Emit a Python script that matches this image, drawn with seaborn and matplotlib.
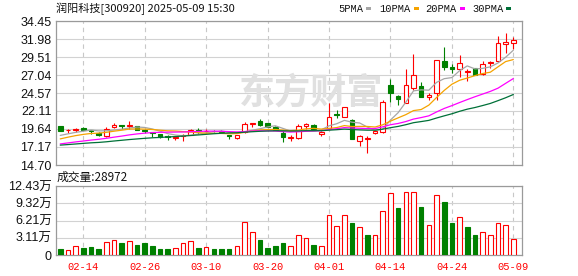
import numpy as np
import pandas as pd
import matplotlib
matplotlib.use("Agg")
import matplotlib.pyplot as plt
from matplotlib.patches import Rectangle
import seaborn as sns

# ---------------- data ----------------
dates = ["2025-02-11", "2025-02-12", "2025-02-13", "2025-02-14", "2025-02-17", "2025-02-18",
         "2025-02-19", "2025-02-20", "2025-02-21", "2025-02-24", "2025-02-25", "2025-02-26",
         "2025-02-27", "2025-02-28", "2025-03-03", "2025-03-04", "2025-03-05", "2025-03-06",
         "2025-03-07", "2025-03-10", "2025-03-11", "2025-03-12", "2025-03-13", "2025-03-14",
         "2025-03-17", "2025-03-18", "2025-03-19", "2025-03-20", "2025-03-21", "2025-03-24",
         "2025-03-25", "2025-03-26", "2025-03-27", "2025-03-28", "2025-03-31", "2025-04-01",
         "2025-04-02", "2025-04-03", "2025-04-07", "2025-04-08", "2025-04-09", "2025-04-10",
         "2025-04-11", "2025-04-14", "2025-04-15", "2025-04-16", "2025-04-17", "2025-04-18",
         "2025-04-21", "2025-04-22", "2025-04-23", "2025-04-24", "2025-04-25", "2025-04-28",
         "2025-04-29", "2025-04-30", "2025-05-06", "2025-05-07", "2025-05-08", "2025-05-09"]

open_ = [20.05, 19.45, 19.50, 19.80, 19.45, 19.10, 18.65, 19.85, 20.15, 20.00,
         20.05, 19.50, 19.20, 18.90, 18.62, 18.45, 18.70, 18.80, 19.45, 19.30,
         19.40, 19.40, 18.75, 18.35, 19.20, 20.30, 20.70, 20.40, 19.95, 19.15,
         18.45, 18.45, 20.10, 20.20, 18.95, 19.80, 21.72, 21.35, 20.85, 18.00,
         18.25, 19.10, 19.27, 25.67, 24.10, 23.25, 25.20, 25.55, 24.05, 24.55,
         29.00, 28.20, 27.85, 27.40, 28.00, 27.15, 28.65, 28.95, 31.25, 31.40]
high = [20.10, 19.60, 19.80, 19.95, 19.50, 19.20, 19.90, 20.45, 20.20, 20.80,
        20.10, 19.60, 19.25, 18.95, 18.85, 18.60, 18.95, 19.70, 19.80, 19.65,
        19.45, 19.45, 18.80, 18.80, 20.55, 20.45, 21.05, 20.45, 20.00, 19.45,
        18.80, 20.30, 20.45, 20.30, 19.40, 23.20, 22.20, 22.65, 20.95, 18.75,
        18.70, 19.50, 23.57, 26.45, 24.30, 27.85, 29.90, 26.15, 24.60, 29.15,
        30.95, 28.60, 29.80, 27.85, 28.05, 28.95, 29.00, 32.35, 32.80, 32.20]
low = [19.35, 19.15, 19.25, 19.45, 18.95, 18.70, 18.60, 19.80, 19.60, 19.70,
       19.50, 19.05, 18.50, 18.35, 18.15, 18.15, 17.95, 18.75, 18.90, 19.05,
       19.25, 19.10, 18.25, 18.30, 19.15, 19.90, 20.00, 19.85, 19.50, 17.90,
       17.95, 18.30, 19.70, 19.45, 18.65, 19.75, 21.08, 21.30, 18.20, 17.25,
       16.40, 18.95, 19.13, 23.38, 22.95, 23.20, 25.00, 24.00, 23.55, 23.60,
       27.75, 27.25, 26.80, 26.25, 27.00, 27.10, 27.95, 28.90, 30.10, 30.60]
close = [19.40, 19.55, 19.62, 19.50, 19.38, 18.85, 19.60, 20.15, 20.05, 20.20,
         19.55, 19.30, 19.10, 18.55, 18.52, 18.58, 18.80, 19.45, 19.35, 19.40,
         19.30, 19.25, 18.65, 18.75, 20.30, 20.40, 20.25, 19.90, 19.55, 18.50,
         18.55, 20.05, 20.30, 19.50, 19.25, 21.25, 21.50, 22.60, 18.25, 18.70,
         18.45, 19.30, 23.34, 24.53, 23.75, 25.65, 27.05, 24.05, 24.30, 29.10,
         28.20, 27.80, 28.75, 27.60, 27.05, 28.55, 28.85, 31.40, 31.55, 31.85]
# volume in 万 (10k)
volume_wan = [1.08, 0.90, 1.55, 1.31, 1.43, 1.08, 2.27, 2.63, 2.15, 2.45,
              1.79, 2.15, 1.61, 1.08, 1.08, 1.19, 2.15, 2.45, 1.25, 1.37,
              1.08, 1.08, 1.08, 1.67, 5.86, 4.06, 2.69, 1.25, 1.61, 2.15,
              1.55, 3.52, 2.99, 1.73, 1.55, 7.29, 5.14, 7.29, 5.74, 4.96,
              3.58, 3.52, 8.01, 11.23, 8.42, 11.41, 11.41, 8.60, 5.32, 10.87,
              9.50, 5.74, 6.93, 5.02, 3.58, 4.12, 3.52, 5.85, 5.32, 2.8972]
# 1 = red (up vs previous close), 0 = green
volume_up = [0, 1, 1, 0, 0, 0, 1, 1, 0, 1,
             0, 0, 0, 0, 0, 1, 1, 1, 0, 1,
             0, 0, 0, 1, 1, 1, 0, 0, 0, 0,
             1, 1, 1, 0, 1, 1, 1, 1, 0, 1,
             0, 1, 1, 1, 0, 1, 1, 0, 1, 1,
             0, 0, 1, 0, 0, 1, 1, 1, 1, 1]
# closes before the visible window (estimated from the moving-average levels)
hist_close = [17.3, 17.2, 17.0, 17.1, 17.2, 17.0, 16.9, 17.1, 17.2, 17.0,
              16.8, 16.9, 17.0, 16.8, 16.7, 16.9, 17.0, 17.1, 16.9, 16.9,
              17.2, 17.5, 17.8, 18.1, 18.4, 18.5, 18.6, 18.7, 18.6]

price_ticks = [14.70, 17.17, 19.64, 22.11, 24.57, 27.04, 29.51, 31.98, 34.45]
price_tick_labels = ["14.70", "17.17", "19.64", "22.11", "24.57", "27.04", "29.51", "31.98", "34.45"]
vol_ticks = [0, 3.11, 6.21, 9.32, 12.43]
vol_tick_labels = ["0", "3.11万", "6.21万", "9.32万", "12.43万"]
date_tick_labels = ["02-14", "02-26", "03-10", "03-20", "04-01", "04-14", "04-24", "05-09"]
ma_windows = [5, 10, 20, 30]
ma_labels = ["5PMA", "10PMA", "20PMA", "30PMA"]
ma_colors = ["#a6a6a6", "#f5a300", "#ff00ff", "#007038"]
title = "润阳科技[300920] 2025-05-09 15:30"
vol_title = "成交量:28972"
watermark = "东方财富"

RED = "#ff0000"
GREEN = "#008000"

# ---------------- frame ----------------
df = pd.DataFrame({"date": dates, "open": open_, "high": high, "low": low,
                   "close": close, "vol": volume_wan, "vup": volume_up})
df["x"] = np.arange(len(df))
full_close = pd.Series(hist_close + close)
for w in ma_windows:
    df[f"ma{w}"] = full_close.rolling(w).mean().iloc[len(hist_close):].to_numpy()

mmdd = [d[5:] for d in dates]
date_pos = [mmdd.index(t) for t in date_tick_labels]

sns.set_theme(style="white")
plt.rcParams["font.family"] = ["Liberation Sans", "Noto Sans CJK SC", "DejaVu Sans"]

W, H = 578, 276
fig = plt.figure(figsize=(W / 100, H / 100), dpi=100)
ax = fig.add_axes([56 / W, 1 - 165 / H, 466 / W, 144 / H])
axv = fig.add_axes([56 / W, 1 - 255 / H, 466 / W, 69 / H])

xlim = (-0.55, 60.13)
SPINE = "#9a9a9a"
for a in (ax, axv):
    a.set_xlim(*xlim)
    a.set_facecolor("white")
    for s in a.spines.values():
        s.set_color(SPINE)
        s.set_linewidth(0.9)
    a.set_axisbelow(True)
    a.set_xticks(date_pos)
    a.grid(True, axis="y", color="#d2d2d2", linestyle="-", linewidth=0.8)
    a.grid(True, axis="x", color="#c8c8c8", linestyle=(0, (4, 3.5)), linewidth=0.8)
    a.tick_params(axis="both", length=0)

# ---------------- candles ----------------
up = (df["close"] >= df["open"]).to_numpy()
ccol = np.where(up, RED, GREEN)
ax.vlines(df["x"], df["low"], df["high"], colors=ccol, linewidth=0.8, zorder=2)
body_bot = np.minimum(df["open"], df["close"])
body_h = np.maximum((df["close"] - df["open"]).abs(), 0.03)
BW = 0.6
ax.bar(df["x"][up], body_h[up], bottom=body_bot[up], width=BW,
       facecolor="white", edgecolor=RED, linewidth=0.8, zorder=3)
ax.bar(df["x"][~up], body_h[~up], bottom=body_bot[~up], width=BW,
       facecolor=GREEN, edgecolor=GREEN, linewidth=0.8, zorder=3)

for w, c in zip(ma_windows, ma_colors):
    sns.lineplot(data=df, x="x", y=f"ma{w}", color=c, linewidth=0.9, ax=ax, zorder=4)

ax.set_ylim(price_ticks[0], price_ticks[-1])
ax.set_yticks(price_ticks)
ax.set_yticklabels(price_tick_labels)
ax.tick_params(axis="y", labelsize=9, pad=3, labelcolor="#111111")
ax.tick_params(axis="x", labelbottom=False)
ax.set_xlabel("")
ax.set_ylabel("")

ax.text(0.548, 0.5, watermark, transform=ax.transAxes, ha="center", va="center",
        fontsize=26, fontweight="bold", color="#e0e0e0", zorder=1,
        family=["Noto Sans CJK SC"])

# ---------------- volume ----------------
vup = df["vup"].to_numpy() == 1
axv.bar(df["x"][vup], df["vol"][vup], width=BW, facecolor="white",
        edgecolor=RED, linewidth=0.8, zorder=3)
axv.bar(df["x"][~vup], df["vol"][~vup], width=BW, facecolor=GREEN,
        edgecolor=GREEN, linewidth=0.8, zorder=3)
axv.set_ylim(vol_ticks[0], vol_ticks[-1])
axv.set_yticks(vol_ticks)
axv.set_yticklabels(vol_tick_labels)
axv.tick_params(axis="y", labelsize=9, pad=3, labelcolor="#111111")
axv.set_xticklabels(date_tick_labels)
axv.tick_params(axis="x", labelsize=7.5, pad=5, labelcolor=RED)
for lbl in axv.get_xticklabels():
    lbl.set_family("Liberation Mono")

# ---------------- texts ----------------
fig.text(56 / W, 1 - 9 / H, title, fontsize=8, va="center", ha="left",
         family=["Noto Sans CJK SC", "DejaVu Sans"], color="#111111")
fig.text(57 / W, 1 - 177.5 / H, vol_title, fontsize=8.5, va="center", ha="left",
         family=["Noto Sans CJK SC", "DejaVu Sans"], color="#111111")

leg_text_x = [338, 379, 425, 472]
leg_mark_x = [366, 414, 460, 506]
for lab, c, tx, mx in zip(ma_labels, ma_colors, leg_text_x, leg_mark_x):
    fig.text(tx / W, 1 - 8.5 / H, lab, fontsize=7.5, va="center", ha="left",
             family="Liberation Mono", color="#111111")
    fig.patches.append(Rectangle((mx / W, 1 - 10 / H), 4.5 / W, 3 / H,
                                 transform=fig.transFigure, facecolor=c,
                                 edgecolor="none"))

fig.savefig("out.png", dpi=100)
